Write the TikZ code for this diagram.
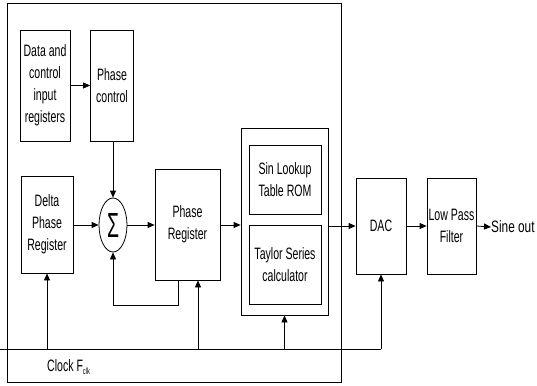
\documentclass[tikz,border=0pt]{standalone}
\usepackage{fontspec}
\setmainfont{Liberation Sans}[FakeStretch=0.64]
\usetikzlibrary{arrows.meta,shapes.geometric}
\begin{document}
\begin{tikzpicture}[x=1pt,y=-1pt,
  every node/.style={font=\fontsize{16.5}{22}\selectfont},
  blk/.style={draw,line width=0.8pt,rectangle,inner sep=0pt,align=center},
  ln/.style={line width=0.8pt},
  arr/.style={ln,-{Triangle[length=7pt,width=6pt]}}]
\useasboundingbox (0,0) rectangle (537,385);
\node[blk,minimum width=334,minimum height=379] (outer) at (174,192.5) {};
\node[blk,minimum width=50,minimum height=111] (data) at (45,85.5) {Data and\\control\\input\\registers};
\node[blk,minimum width=43,minimum height=111] (phc) at (112,85.5) {Phase\\control};
\node[blk,minimum width=52,minimum height=97] (delta) at (47,224.5) {Delta\\Phase\\Register};
\node[draw,line width=0.8pt,ellipse,minimum width=28,minimum height=54,inner sep=0pt] (sigma) at (113,225) {};
\node at (sigma.center) {\resizebox{12pt}{24pt}{Σ}};
\node[blk,minimum width=65,minimum height=111] (preg) at (187.5,224.5) {Phase\\Register};
\node[blk,minimum width=87,minimum height=187] (rom) at (284.5,221.5) {};
\node[blk,minimum width=72,minimum height=69] (sin) at (285,179.5) {Sin Lookup\\Table ROM};
\node[blk,minimum width=72,minimum height=79] (tay) at (285,264.5) {Taylor Series\\calculator};
\node[blk,minimum width=50,minimum height=96] (dac) at (381,226) {DAC};
\node[blk,minimum width=49,minimum height=96] (lpf) at (451.5,226) {Low Pass\\Filter};
\node[anchor=west,inner sep=0pt] (sine) at (491,227) {\scalebox{1.12}[1]{Sine out}};
\node[anchor=west,inner sep=0pt] (clk) at (47,367) {Clock F\raisebox{-0.3ex}{\fontsize{9}{9}\selectfont clk}};
\coordinate (ck0) at (0,349);
\coordinate (ck1) at (381,349);
\coordinate (fb) at (178,305);
\draw[arr] (data) -- (phc);
\draw[arr] (phc.south -| sigma.north) -- (sigma.north);
\draw[arr] (delta.east |- sigma) -- (sigma.west);
\draw[arr] (sigma.east) -- (preg.west |- sigma);
\draw[arr] (preg.south -| fb) -- (fb) -| (sigma.south);
\draw[arr] (preg.east |- sigma) -- (rom.west |- sigma);
\draw[arr] (rom.east |- dac) -- (dac.west);
\draw[arr] (dac) -- (lpf);
\draw[arr] (lpf.east) -- (sine.west);
\draw[ln] (ck0) -- (ck1);
\draw[arr] (ck1) -- (dac.south);
\draw[arr] (delta.south |- ck0) -- (delta.south);
\draw[arr] ([xshift=10.5]preg.south |- ck0) -- ([xshift=10.5]preg.south);
\draw[arr] (rom.south |- ck0) -- (rom.south);
\end{tikzpicture}
\end{document}
